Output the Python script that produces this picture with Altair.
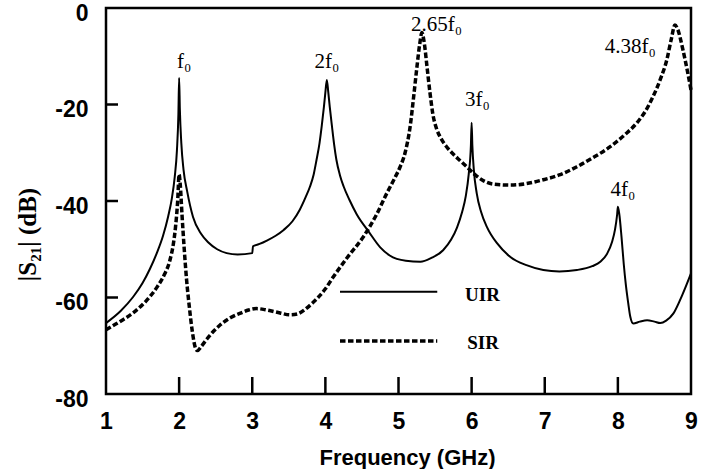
import altair as alt
import pandas as pd

# Uniform-impedance resonator (UIR) response
freq_uir = [1.00, 1.20, 1.37, 1.50, 1.60, 1.70, 1.78, 1.85, 1.90, 1.94, 1.97, 1.99,
            2.00, 2.01, 2.03, 2.06, 2.11, 2.19, 2.30, 2.40, 2.52, 2.65, 2.80, 3.00,
            3.01, 3.10, 3.20, 3.32, 3.43, 3.55, 3.65, 3.73, 3.79, 3.84, 3.88, 3.92,
            3.95, 3.98, 4.00, 4.02, 4.04, 4.06, 4.09, 4.12, 4.15, 4.20, 4.25, 4.33,
            4.43, 4.59, 4.75, 4.88, 5.10, 5.30, 5.45, 5.61, 5.72, 5.80, 5.87, 5.92,
            5.96, 5.99, 6.00, 6.01, 6.03, 6.07, 6.13, 6.21, 6.35, 6.53, 6.75, 6.98,
            7.20, 7.44, 7.65, 7.76, 7.85, 7.92, 7.96, 7.99, 8.00, 8.02, 8.05, 8.08,
            8.11, 8.14, 8.17, 8.21, 8.30, 8.40, 8.50, 8.58, 8.66, 8.76, 8.88, 9.00]
db_uir = [-65.3, -62.8, -59.9, -57.0, -54.1, -50.6, -47.2, -43.2, -39.5, -35.0, -29.5, -22.0,
          -14.5, -21.0, -28.0, -33.5, -38.0, -43.3, -46.8, -48.6, -50.0, -50.8, -51.1, -50.8,
          -49.4, -48.9, -48.2, -47.2, -46.0, -44.2, -41.8, -39.2, -37.0, -34.5, -31.4, -28.0,
          -24.5, -20.5, -17.5, -14.9, -17.5, -20.5, -24.5, -28.3, -31.4, -34.7, -37.0, -39.8,
          -42.8, -46.3, -49.6, -51.3, -52.4, -52.6, -51.8, -50.2, -48.0, -45.5, -42.3, -39.0,
          -34.5, -28.5, -23.8, -28.5, -33.5, -38.4, -42.3, -45.4, -48.8, -51.6, -53.3, -54.3,
          -54.6, -54.3, -53.5, -52.6, -51.0, -48.5, -46.0, -42.8, -41.2, -42.8, -47.5, -53.0,
          -57.5, -61.0, -64.0, -65.4, -65.0, -64.7, -65.0, -65.3, -64.8, -63.3, -59.5, -55.0]

# Stepped-impedance resonator (SIR) response
freq_sir = [1.00, 1.20, 1.37, 1.55, 1.70, 1.80, 1.87, 1.92, 1.95, 1.98, 2.00, 2.015,
            2.04, 2.07, 2.10, 2.14, 2.18, 2.22, 2.25, 2.30, 2.38, 2.47, 2.56, 2.70,
            2.83, 2.95, 3.06, 3.20, 3.38, 3.52, 3.62, 3.72, 3.82, 3.90, 4.00, 4.11,
            4.30, 4.52, 4.70, 4.84, 4.95, 5.02, 5.09, 5.16, 5.21, 5.25, 5.29, 5.32,
            5.35, 5.39, 5.43, 5.47, 5.52, 5.58, 5.66, 5.75, 5.84, 5.94, 6.05, 6.15,
            6.30, 6.53, 6.75, 6.98, 7.20, 7.44, 7.65, 7.89, 8.10, 8.26, 8.38, 8.48,
            8.58, 8.67, 8.73, 8.78, 8.82, 8.89, 8.95, 9.00]
db_sir = [-66.7, -64.9, -63.2, -60.7, -57.8, -55.2, -52.5, -49.0, -45.5, -40.0, -34.5, -36.5,
          -43.0, -50.0, -56.0, -62.0, -67.0, -70.3, -71.0, -70.2, -68.6, -67.0, -65.7, -64.2,
          -63.3, -62.6, -62.3, -62.6, -63.2, -63.6, -63.4, -62.5, -61.2, -60.0, -58.2, -55.7,
          -51.7, -47.4, -42.8, -38.4, -35.2, -33.0, -30.0, -24.5, -18.0, -12.5, -7.5, -5.1,
          -7.0, -12.2, -17.5, -22.0, -25.0, -27.0, -28.8, -30.3, -31.6, -33.0, -34.6, -35.7,
          -36.5, -36.7, -36.4, -35.6, -34.6, -32.9, -31.1, -28.8, -26.2, -23.8, -21.3, -18.4,
          -14.8, -10.7, -6.5, -3.5, -4.5, -8.7, -13.0, -17.0]

# Resonance annotations
peak_labels = ["f₀", "2f₀", "2.65f₀", "3f₀", "4.38f₀", "4f₀"]
peak_label_freq = [2.07, 4.02, 5.52, 6.08, 8.17, 8.07]
peak_label_db = [-12.4, -12.4, -4.7, -20.3, -9.3, -39.0]

# In-plot legend
legend_names = ["UIR", "SIR"]
legend_db = [-58.8, -69.0]
legend_span = [4.20, 5.53]
legend_text_freq = [5.91, 5.94]
legend_text_db = [-59.5, -69.5]

x_ticks = [1, 2, 3, 4, 5, 6, 7, 8, 9]
y_ticks = [0, -20, -40, -60, -80]
x_inner_ticks = [2, 3, 4, 5, 6, 7, 8]
y_inner_ticks = [-20, -40, -60]

uir_df = pd.DataFrame({"f": freq_uir, "db": db_uir})
sir_df = pd.DataFrame({"f": freq_sir, "db": db_sir})
ann_df = pd.DataFrame({"label": peak_labels, "f": peak_label_freq, "db": peak_label_db})
leg_rows = []
for name, d in zip(legend_names, legend_db):
    for f in legend_span:
        leg_rows.append({"series": name, "f": f, "db": d})
leg_df = pd.DataFrame(leg_rows)
leg_text_df = pd.DataFrame({"label": legend_names, "f": legend_text_freq, "db": legend_text_db})

x_scale = alt.Scale(domain=[1, 9], nice=False, zero=False)
y_scale = alt.Scale(domain=[-80, 0], nice=False, zero=False)

x_enc = alt.X(
    "f:Q", scale=x_scale,
    axis=alt.Axis(
        values=x_ticks, title="Frequency (GHz)", grid=False, domain=False, ticks=False,
        labelFont="Liberation Sans", labelFontWeight="bold", labelFontSize=23,
        labelColor="black", labelPadding=16, labelBaseline="top", labelFlush=False,
        labelExpr="toString(datum.value)",
        titleFont="Liberation Sans", titleFontWeight="bold", titleFontSize=22,
        titleColor="black", titleX=301, titleY=70, titleBaseline="alphabetic",
        titleAlign="center",
    ),
)
y_enc = alt.Y(
    "db:Q", scale=y_scale,
    axis=alt.Axis(
        values=y_ticks, title="|S₂₁| (dB)", grid=False, domain=False,
        ticks=False,
        labelFont="Liberation Sans", labelFontWeight="bold", labelFontSize=23,
        labelColor="black", labelPadding=18, labelOffset=5, labelFlush=False,
        labelExpr="toString(datum.value)",
        titleFont="Liberation Serif", titleFontWeight="bold", titleFontSize=25,
        titleColor="black", titleAngle=270, titleX=-79, titleY=226,
        titleAlign="center", titleBaseline="middle",
    ),
)

uir_line = alt.Chart(uir_df).mark_line(
    color="black", strokeWidth=2, interpolate="monotone"
).encode(x=x_enc, y=y_enc)

sir_line = alt.Chart(sir_df).mark_line(
    color="black", strokeWidth=3.5, strokeDash=[5.5, 2.5], interpolate="monotone"
).encode(x="f:Q", y="db:Q")

annotations = alt.Chart(ann_df).mark_text(
    font="Liberation Serif", fontSize=21, color="black", align="center", baseline="alphabetic"
).encode(x="f:Q", y="db:Q", text="label:N")

leg_solid = alt.Chart(leg_df).transform_filter(alt.datum.series == "UIR").mark_line(
    color="black", strokeWidth=2
).encode(x="f:Q", y="db:Q")

leg_dash = alt.Chart(leg_df).transform_filter(alt.datum.series == "SIR").mark_line(
    color="black", strokeWidth=3.5, strokeDash=[5.5, 2.5]
).encode(x="f:Q", y="db:Q")

leg_text = alt.Chart(leg_text_df).mark_text(
    font="Liberation Serif", fontWeight="bold", fontSize=19, color="black",
    align="left", baseline="middle"
).encode(x="f:Q", y="db:Q", text="label:N")

# Inward-pointing tick marks
x_tick_marks = alt.Chart(pd.DataFrame({"t": x_inner_ticks})).mark_rule(
    color="black", strokeWidth=2.5
).encode(x="t:Q", y=alt.value(369), y2=alt.value(386))

y_tick_marks = alt.Chart(pd.DataFrame({"t": y_inner_ticks})).mark_rule(
    color="black", strokeWidth=2.5
).encode(y="t:Q", x=alt.value(0), x2=alt.value(12))

chart = alt.layer(
    uir_line, sir_line, annotations, leg_solid, leg_dash, leg_text,
    x_tick_marks, y_tick_marks,
).properties(
    width=585, height=386,
    autosize=alt.AutoSizeParams(type="none"),
    padding={"left": 106, "top": 8, "right": 10, "bottom": 75},
    background="white",
).configure_view(
    stroke="black", strokeWidth=2.5
)

chart.save("out.html", embed_options={"renderer": "svg", "actions": False})
